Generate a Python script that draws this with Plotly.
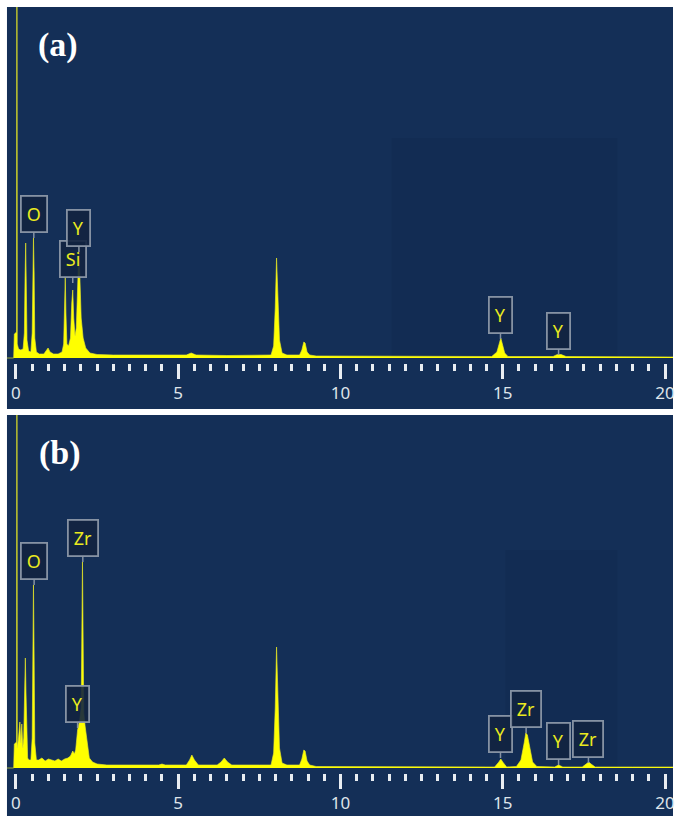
import plotly.graph_objects as go

# ---------------- data ----------------
# Panel (a): EDS spectrum, energy in keV, counts in arbitrary units
energy_a = [-0.28, -0.07, -0.05, 0.00, 0.02, 0.03, 0.04, 0.08, 0.15, 0.22,
            0.26, 0.28, 0.30, 0.32, 0.34, 0.39,
            0.46, 0.50, 0.52, 0.54, 0.56, 0.58, 0.63,
            0.72, 0.86, 0.94, 0.99, 1.05, 1.16, 1.30,
            1.42, 1.47, 1.50, 1.52, 1.54, 1.57, 1.62,
            1.68, 1.72, 1.75, 1.78, 1.82,
            1.86, 1.90, 1.94, 1.97, 2.01, 2.07, 2.15, 2.28, 2.50,
            3.0, 4.0, 5.25, 5.40, 5.55, 6.5, 7.5,
            7.86, 7.94, 7.99, 8.03, 8.07, 8.12, 8.20, 8.35,
            8.74, 8.81, 8.87, 8.91, 8.97, 9.05, 9.25,
            12.0, 14.66, 14.82, 14.90, 14.94, 14.98, 15.06, 15.16,
            16.55, 16.68, 16.80, 16.95, 19.0, 20.3]
counts_a = [0, 0, 24, 26, 26, 500, 14, 9, 8, 9,
            25, 80, 115, 70, 18, 7,
            6, 25, 90, 120, 85, 20, 6,
            4, 4, 7, 10, 6, 4, 4,
            6, 14, 50, 81, 45, 14, 12,
            20, 55, 68, 40, 22,
            30, 85, 110, 80, 40, 20, 10, 5, 3.5,
            3, 3, 3, 5, 3, 2.5, 2.5,
            3, 12, 50, 100, 60, 18, 5, 3,
            3, 8, 16, 15, 6, 3, 2,
            1.5, 1.5, 6, 15, 20, 15, 5, 1.5,
            1.5, 3.5, 3.5, 1.5, 1, 1]

# Panel (b)
energy_b = [-0.28, -0.07, -0.05, 0.00, 0.02, 0.03, 0.04, 0.08, 0.12, 0.15,
            0.18, 0.21, 0.24, 0.27, 0.29, 0.31, 0.33, 0.36, 0.40,
            0.46, 0.50, 0.52, 0.54, 0.56, 0.58, 0.63,
            0.70, 0.80, 0.90, 1.00, 1.10, 1.20, 1.30, 1.40, 1.50, 1.60,
            1.68, 1.75, 1.80,
            1.84, 1.90, 1.96, 2.01, 2.03, 2.05, 2.07, 2.09, 2.13, 2.19,
            2.26, 2.36, 2.50, 2.80,
            3.5, 4.4, 4.5, 4.6, 5.25, 5.35, 5.42, 5.50, 5.62,
            6.2, 6.32, 6.42, 6.52, 6.65, 7.5,
            7.86, 7.94, 7.99, 8.03, 8.07, 8.12, 8.20, 8.35,
            8.74, 8.81, 8.87, 8.91, 8.97, 9.05, 9.25,
            12.0, 14.75, 14.88, 14.94, 15.00, 15.12,
            15.42, 15.56, 15.66, 15.71, 15.76, 15.83, 15.92, 16.05,
            16.6, 16.72, 16.85, 17.45, 17.58, 17.65, 17.72, 17.85, 19.0, 20.3]
counts_b = [0, 0, 24, 26, 26, 500, 20, 30, 46, 25,
            44, 20, 30, 80, 110, 75, 30, 10, 8,
            8, 30, 120, 183, 110, 25, 8,
            8, 10, 7, 9, 8, 7, 9, 7, 9, 10,
            12, 17, 14,
            18, 38, 47, 60, 140, 206, 130, 55, 42, 25,
            10, 6, 4, 3,
            3, 3, 4, 3, 3, 8, 13, 8, 3,
            3, 6, 10, 6, 3, 3,
            3, 15, 60, 121, 70, 20, 5, 3,
            3, 9, 18, 17, 7, 3, 1.5,
            1, 1, 6, 9, 6, 1,
            1.5, 8, 25, 35, 33, 20, 6, 1.5,
            1, 3, 1, 1, 4, 6, 4, 1, 1, 1]

# element markers: text, energy (keV), counts at the marker tip
labels_a_text = ["O", "Si", "Y", "Y", "Y"]
labels_a_energy = [0.55, 1.75, 1.94, 14.93, 16.72]
labels_a_height = [120, 75, 106, 19, 3]

labels_b_text = ["O", "Zr", "Y", "Y", "Zr", "Y", "Zr"]
labels_b_energy = [0.56, 2.06, 1.90, 14.93, 15.72, 16.72, 17.64]
labels_b_height = [183, 206, 40, 10, 35, 3, 5]

tick_values = [0, 5, 10, 15, 20]
tick_text = ["0", "5", "10", "15", "20"]
panel_names = ["(a)", "(b)"]

# ---------------- styling / layout ----------------
W, H = 675, 816
X_RANGE = [-0.2765, 20.246]
BG = "#142f57"
YELLOW = "#ffff00"
TICK_COLOR = "#e9edf2"
LABEL_FONT = "Noto Sans"


def px(v):
    return v / W


def py(v):
    return 1 - v / H


panels = [
    dict(name=panel_names[0], e=energy_a, c=counts_a,
         lt=labels_a_text, le=labels_a_energy, lh=labels_a_height,
         xa="x", ya="y", xa_int="x3",
         dom=[py(363), py(7)], yr=[-5, 351],
         bg=(7, 7, 675, 409), inner=(393, 138, 619, 358), letter=(58, 45)),
    dict(name=panel_names[1], e=energy_b, c=counts_b,
         lt=labels_b_text, le=labels_b_energy, lh=labels_b_height,
         xa="x2", ya="y2", xa_int="x4",
         dom=[py(773), py(415)], yr=[-5, 353],
         bg=(7, 415, 675, 816), inner=(507, 550, 619, 768), letter=(60, 453)),
]

fig = go.Figure()
shapes = []
annotations = []
layout_axes = {}

for p in panels:
    fig.add_trace(go.Scatter(
        x=p["e"], y=p["c"], mode="lines", fill="tozeroy",
        fillcolor=YELLOW, line=dict(color="rgba(235,235,40,0.8)", width=0.8),
        xaxis=p["xa"], yaxis=p["ya"], showlegend=False, hoverinfo="skip"))

    x0, y0, x1, y1 = p["bg"]
    shapes.append(dict(type="rect", xref="paper", yref="paper", layer="below",
                       x0=px(x0), x1=px(x1), y0=py(y1), y1=py(y0),
                       fillcolor=BG, line=dict(width=0)))
    ix0, iy0, ix1, iy1 = p["inner"]
    shapes.append(dict(type="rect", xref="paper", yref="paper", layer="below",
                       x0=px(ix0), x1=px(ix1), y0=py(iy1), y1=py(iy0),
                       fillcolor="rgba(5,20,45,0.07)", line=dict(width=0)))

    lx, ly = p["letter"]
    annotations.append(dict(xref="paper", yref="paper", x=px(lx), y=py(ly),
                            text="<b>%s</b>" % p["name"], showarrow=False,
                            xanchor="center", yanchor="middle",
                            font=dict(family="Liberation Serif", size=34,
                                      color="white")))

    for t, e, h in zip(p["lt"], p["le"], p["lh"]):
        annotations.append(dict(
            xref=p["xa"], yref=p["ya"], x=e, y=h, text=t,
            showarrow=True, ax=0, ay=-24, arrowhead=0, arrowwidth=1.5,
            arrowcolor="rgba(140,152,168,0.95)", standoff=0,
            bordercolor="rgba(140,152,168,0.95)", borderwidth=1.8, borderpad=5,
            bgcolor="rgba(18,36,64,0.9)",
            font=dict(family=LABEL_FONT, size=18, color="#eaea1e")))

    xkey = "xaxis" if p["xa"] == "x" else "xaxis" + p["xa"][1:]
    ykey = "yaxis" if p["ya"] == "y" else "yaxis" + p["ya"][1:]
    xikey = "xaxis" + p["xa_int"][1:]
    layout_axes[xkey] = dict(
        domain=[px(7), 1], anchor=p["ya"], range=X_RANGE,
        tickmode="array", tickvals=tick_values, ticktext=tick_text,
        ticks="outside", ticklen=15, tickwidth=3, tickcolor=TICK_COLOR,
        showgrid=False, zeroline=False, showline=False,
        ticklabeloverflow="allow",
        tickfont=dict(family=LABEL_FONT, size=17, color="#dfe4ea"),
        minor=dict(tickmode="linear", tick0=0, dtick=0.5, ticks="outside",
                   ticklen=7, tickwidth=3, tickcolor=TICK_COLOR, showgrid=False))
    layout_axes[xikey] = dict(
        overlaying=p["xa"], anchor=p["ya"], range=X_RANGE, side="bottom",
        tickmode="linear", tick0=0, dtick=1, ticks="outside", ticklen=10,
        tickwidth=3, tickcolor=TICK_COLOR, showticklabels=False,
        showgrid=False, zeroline=False, showline=False)
    layout_axes[ykey] = dict(domain=p["dom"], anchor=p["xa"], range=p["yr"],
                             visible=False, showgrid=False, zeroline=False)

fig.update_layout(
    width=W, height=H, margin=dict(l=0, r=0, t=0, b=0),
    paper_bgcolor="white", plot_bgcolor="rgba(0,0,0,0)",
    shapes=shapes, annotations=annotations, showlegend=False,
    **layout_axes)

fig.write_html("out.html", config={"displayModeBar": False},
               post_script="document.body.style.margin='0';"
                           "document.body.style.overflow='hidden';")
